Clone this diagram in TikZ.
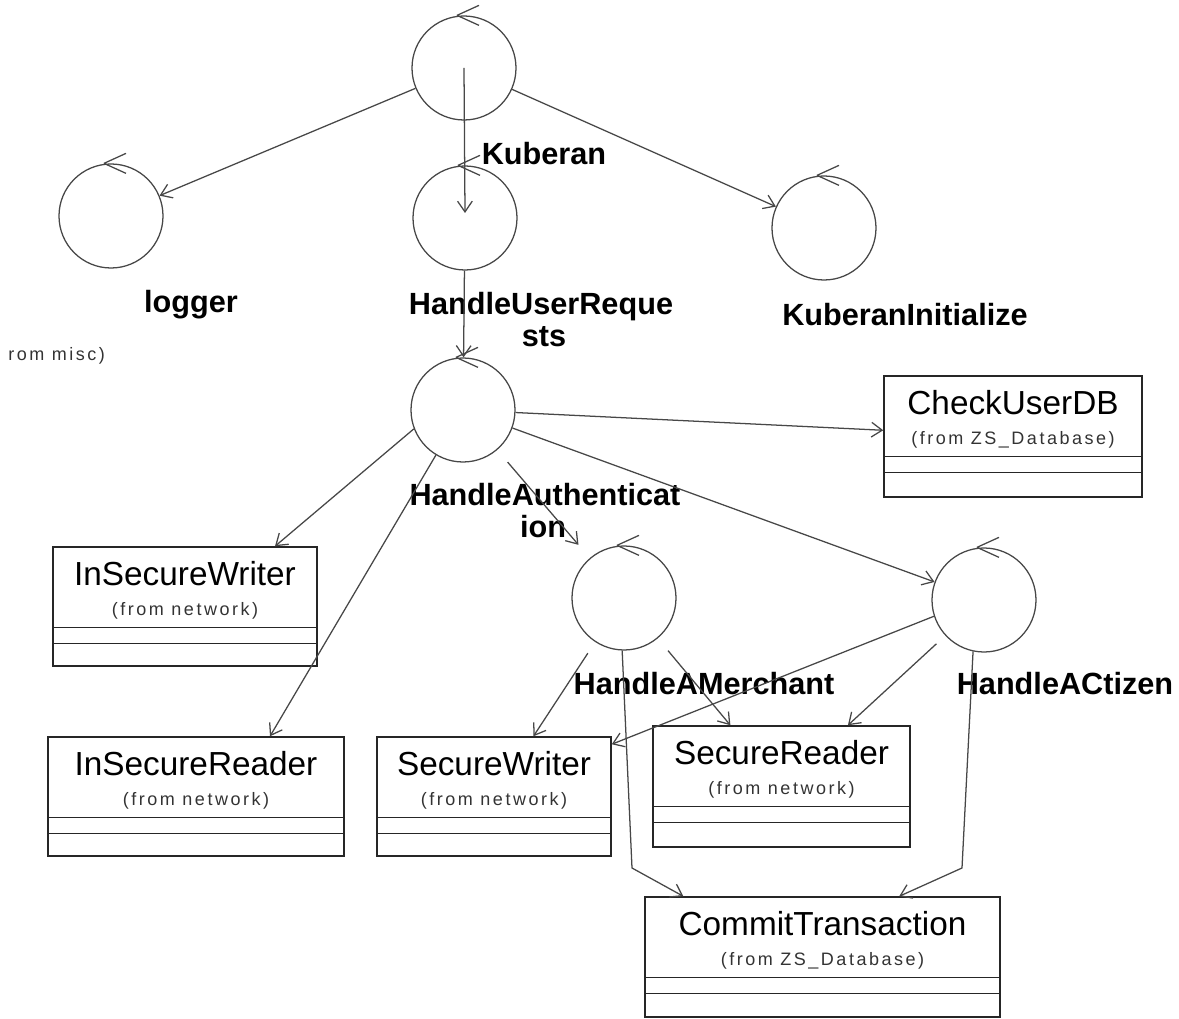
\documentclass[tikz,border=0pt]{standalone}
\usepackage{fontspec}
\setmainfont{Liberation Sans}
\newfontfamily\fromfont[LetterSpace=14]{Liberation Sans}
\usetikzlibrary{arrows.meta,calc,fit}

% UML class box: name, x1, y1, x2, y2, class name, package note
\newcommand\umlclass[7]{%
  \coordinate (#1-nw) at (#2,#3);
  \coordinate (#1-se) at (#4,#5);
  \node[cframe, fit=(#1-nw)(#1-se)] (#1) {};
  \node[ctitle] (#1-t) at ($(#1.north)+(0,27)$) {#6};
  \node[cfrom] (#1-f) at ($(#1.north)+(0,65)$) {#7};
  \draw[cframe] ($(#1.north west)+(0,81)$) -- ($(#1.north east)+(0,81)$);
  \draw[cframe] ($(#1.north west)+(0,97)$) -- ($(#1.north east)+(0,97)$);
}

\begin{document}
\begin{tikzpicture}[x=0.75pt,y=-0.75pt,
  line/.style={draw=black!72, line width=0.95pt},
  dep/.style={line, -{Straight Barb[length=8pt,width=11pt,line width=0.95pt]}},
  ctrl/.style={circle, draw=black!72, line width=0.95pt, minimum size=78pt, inner sep=0pt},
  lbl/.style={font=\fontsize{23}{26}\selectfont\bfseries, inner sep=0pt, anchor=base},
  ctitle/.style={font=\fontsize{25}{29}\selectfont, inner sep=0pt},
  cfrom/.style={font=\fontsize{13.5}{16}\fromfont, inner sep=0pt, text=black!80},
  cframe/.style={draw=black!85, line width=1.1pt, inner sep=0pt},
]
\useasboundingbox (0,0) rectangle (1179,1019);

% control objects
\node[ctrl] (kub) at (464,68) {};
\node[ctrl] (logger) at (111,216) {};
\node[ctrl] (hur) at (465,218) {};
\node[ctrl] (kinit) at (824,228) {};
\node[ctrl] (ha) at (463,410) {};
\node[ctrl] (ham) at (624,598) {};
\node[ctrl] (hac) at (984,600) {};

% control-object markers
\foreach \c in {kub,logger,hur,kinit,ha,ham,hac}{
  \draw[line] ($(\c.north)+(-7,0)$) -- ++(22,-10)
              ($(\c.north)+(-7,0)$) -- ++(22,10);
}

% labels of the control objects
\node[lbl] (kub-l) at (544,165) {Kuberan};
\node[lbl] (logger-l) at (191,313) {logger};
\node[lbl] (hur-l1) at (541,315) {HandleUserReque};
\node[lbl] (hur-l2) at (544,347) {sts};
\node[lbl] (kinit-l) at (905,326) {KuberanInitialize};
\node[lbl] (ha-l1) at (545,506) {HandleAuthenticat};
\node[lbl] (ha-l2) at (543,538) {ion};
\node[lbl] (ham-l) at (704,695) {HandleAMerchant};
\node[lbl] (hac-l) at (1065,695) {HandleACtizen};
\node[cfrom, anchor=west] (misc) at (8,356) {rom misc)};

% classes
\umlclass{cudb}{884}{376}{1142}{497}{CheckUserDB}{(from ZS\_Database)}
\umlclass{isw}{53}{547}{317}{666}{InSecureWriter}{(from network)}
\umlclass{isr}{48}{737}{344}{856}{InSecureReader}{(from network)}
\umlclass{sw}{377}{737}{611}{856}{SecureWriter}{(from network)}
\umlclass{sr}{653}{726}{910}{847}{SecureReader}{(from network)}
\umlclass{ct}{645}{897}{1000}{1017}{CommitTransaction}{(from ZS\_Database)}

% dependencies
\draw[dep] (kub) -- (logger);
\draw[dep] (kub) -- (kinit);
\draw[dep] (kub.center) -- ($(hur.center)+(0,-5)$);
\draw[dep] (hur) -- (ha);
\draw[dep] (ha) -- (cudb);
\draw[dep] (ha.201) -- ($(isw.north)+(90,0)$);
\draw[dep] (ha.239) -- ($(isr.north)+(74,0)$);
\draw[dep, shorten <=12pt, shorten >=13pt] (ha) -- (ham);
\draw[dep] (ha) -- (hac);
\draw[dep, shorten <=10pt] (ham) -- (sw);
\draw[dep, shorten <=12pt] (ham) -- (sr);
\coordinate (hamBend) at (632,868);
\draw[dep] (ham.268) -- (hamBend) -- ($(ct.north west)+(39,0)$);
\draw[dep] (hac.198) -- ($(sw.north east)+(0,8)$);
\draw[dep, shorten <=9pt] (hac) -- (sr);
\coordinate (hacBend) at (962,868);
\draw[dep] (hac.258) -- (hacBend) -- ($(ct.north west)+(255,0)$);
\end{tikzpicture}
\end{document}
